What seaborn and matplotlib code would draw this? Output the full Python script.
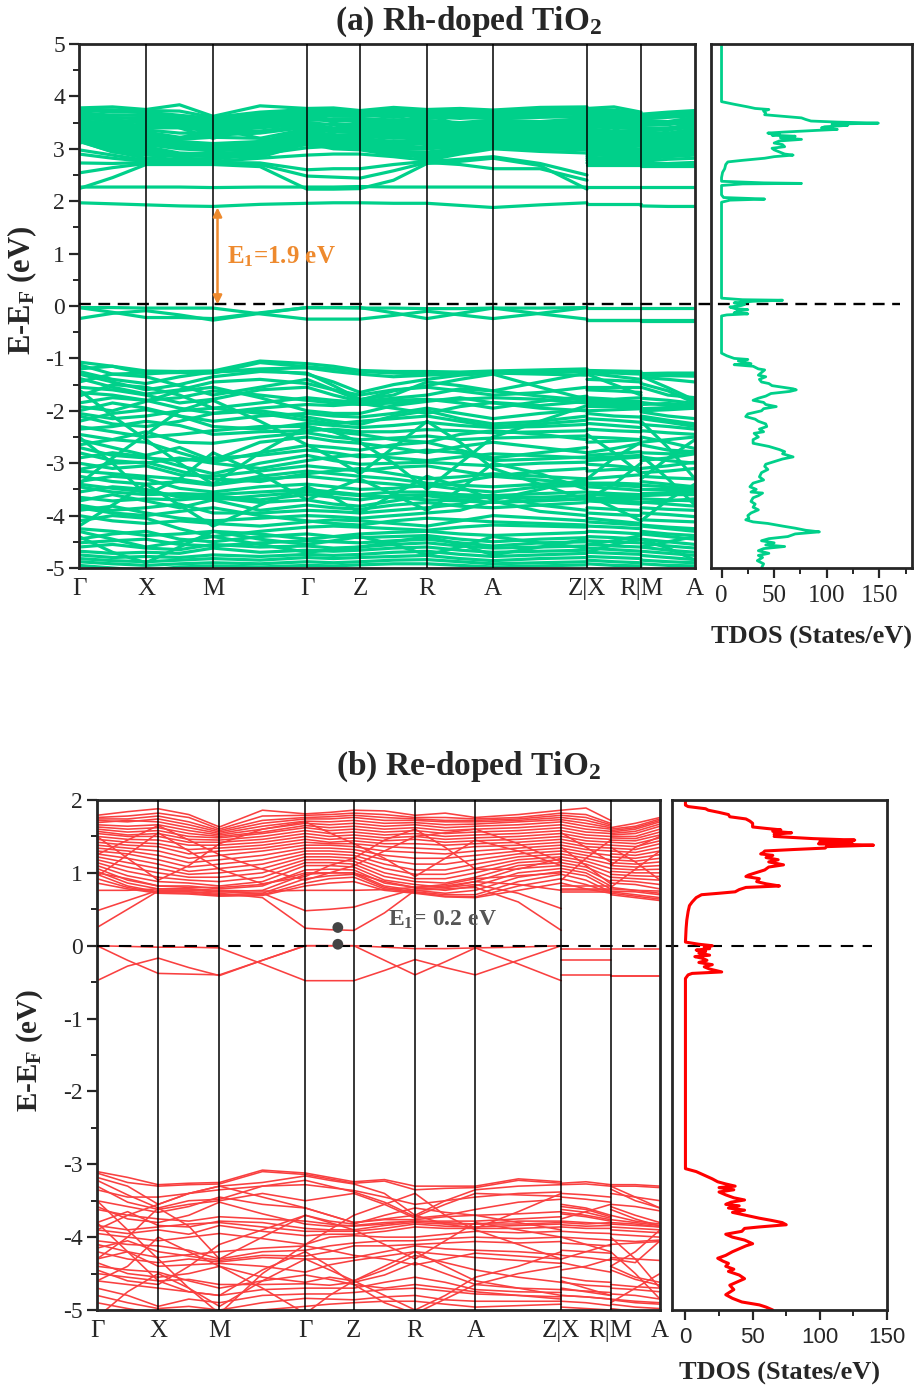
import numpy as np
import pandas as pd
import matplotlib
matplotlib.use("Agg")
import matplotlib.pyplot as plt
import seaborn as sns
from matplotlib.ticker import MultipleLocator

# ---------------- k-path ----------------
KPATH_POS = [0, 67, 134, 228, 281, 348, 414, 508, 562, 616]
KPATH_LABELS = ['Γ', 'X', 'M', 'Γ', 'Z', 'R', 'A', 'Z|X', 'R|M', 'A']
# each band: 21 energies -> Γ,·,X,·,M,·,Γ,·,Z,·,R,·,A,·,Z | X,·,R | M,·,A

# ---------------- (a) Rh-doped: conduction + in-gap ----------------
a_cond = [
    [3.78,3.80,3.75,3.84,3.62,3.82,3.77,3.78,3.73,3.79,3.75,3.77,3.74,3.79,3.80, 3.77,3.80,3.70, 3.66,3.70,3.73],
    [3.76,3.74,3.73,3.72,3.60,3.70,3.75,3.74,3.72,3.74,3.73,3.72,3.72,3.74,3.78, 3.75,3.74,3.68, 3.64,3.66,3.71],
    [3.74,3.70,3.70,3.64,3.58,3.66,3.73,3.70,3.70,3.70,3.71,3.68,3.70,3.70,3.76, 3.73,3.70,3.66, 3.62,3.62,3.69],
    [3.72,3.74,3.68,3.62,3.56,3.62,3.71,3.66,3.68,3.64,3.69,3.72,3.68,3.66,3.73, 3.70,3.66,3.63, 3.60,3.66,3.66],
    [3.69,3.64,3.64,3.60,3.54,3.58,3.69,3.70,3.65,3.60,3.66,3.64,3.65,3.62,3.70, 3.66,3.62,3.60, 3.58,3.60,3.63],
    [3.66,3.58,3.60,3.56,3.51,3.55,3.66,3.62,3.62,3.66,3.62,3.58,3.62,3.66,3.66, 3.62,3.58,3.57, 3.55,3.52,3.60],
    [3.63,3.60,3.56,3.52,3.48,3.52,3.62,3.56,3.58,3.55,3.58,3.60,3.58,3.60,3.62, 3.58,3.55,3.54, 3.52,3.50,3.57],
    [3.60,3.52,3.52,3.48,3.45,3.48,3.58,3.52,3.55,3.50,3.54,3.50,3.55,3.52,3.58, 3.54,3.52,3.50, 3.48,3.46,3.53],
    [3.57,3.56,3.48,3.46,3.42,3.45,3.54,3.56,3.52,3.46,3.50,3.46,3.52,3.48,3.54, 3.50,3.48,3.46, 3.44,3.48,3.50],
    [3.54,3.48,3.44,3.42,3.38,3.42,3.50,3.46,3.48,3.42,3.46,3.42,3.48,3.44,3.50, 3.46,3.44,3.42, 3.40,3.40,3.46],
    [3.51,3.44,3.40,3.40,3.34,3.40,3.47,3.40,3.44,3.40,3.42,3.40,3.45,3.42,3.46, 3.42,3.40,3.38, 3.36,3.36,3.42],
    [3.48,3.40,3.36,3.30,3.30,3.34,3.44,3.38,3.40,3.36,3.38,3.36,3.42,3.38,3.42, 3.38,3.34,3.34, 3.32,3.30,3.38],
    [3.45,3.36,3.32,3.22,3.26,3.30,3.41,3.36,3.36,3.32,3.34,3.32,3.38,3.34,3.38, 3.34,3.30,3.30, 3.28,3.26,3.34],
    [3.42,3.32,3.28,3.18,3.22,3.20,3.38,3.32,3.32,3.28,3.30,3.28,3.34,3.30,3.34, 3.30,3.26,3.26, 3.24,3.22,3.30],
    [3.39,3.30,3.24,3.14,3.10,3.14,3.35,3.26,3.28,3.24,3.26,3.24,3.30,3.26,3.30, 3.26,3.22,3.22, 3.20,3.18,3.26],
    [3.36,3.26,3.20,3.12,3.08,3.12,3.32,3.22,3.24,3.20,3.22,3.20,3.26,3.22,3.26, 3.22,3.18,3.18, 3.16,3.14,3.22],
    [3.33,3.22,3.16,3.08,3.04,3.08,3.28,3.18,3.20,3.14,3.18,3.16,3.22,3.18,3.22, 3.18,3.14,3.14, 3.12,3.10,3.18],
    [3.30,3.18,3.12,3.04,3.00,3.04,3.25,3.14,3.16,3.10,3.14,3.12,3.18,3.14,3.18, 3.14,3.10,3.10, 3.08,3.06,3.14],
    [3.27,3.14,3.08,3.00,2.96,3.00,3.22,3.10,3.12,3.06,3.10,3.08,3.14,3.10,3.14, 3.10,3.06,3.06, 3.04,3.02,3.10],
    [3.24,3.10,3.04,2.92,2.90,2.96,3.19,3.08,3.08,3.02,3.04,3.06,3.10,3.06,3.10, 3.06,3.02,3.00, 3.00,2.98,3.06],
    [3.21,3.06,3.00,2.88,2.92,2.92,3.16,3.06,3.04,2.98,3.00,3.04,3.08,3.04,3.08, 3.02,2.98,2.96, 2.96,2.94,3.02],
    [3.18,3.02,2.96,2.86,2.88,2.88,3.13,3.04,3.02,2.94,2.94,3.00,3.06,3.02,3.06, 2.98,2.94,2.92, 2.92,2.90,2.98],
    [3.16,2.98,2.92,2.90,2.86,2.86,3.12,3.02,3.00,2.90,2.90,2.96,3.04,3.00,3.04, 2.94,2.90,2.88, 2.88,2.88,2.94],
    [3.15,2.94,2.88,2.88,2.85,2.84,3.10,3.00,2.98,2.88,2.86,2.92,3.02,2.98,3.02, 2.90,2.88,2.86, 2.86,2.86,2.90],
    [3.60,3.30,3.02,3.20,3.40,3.20,3.08,3.30,3.55,3.30,3.06,3.25,3.45,3.25,3.10, 3.40,3.10,2.95, 3.30,3.05,2.95],
    [3.10,3.35,3.60,3.40,3.20,3.45,3.70,3.50,3.30,3.50,3.65,3.45,3.20,3.40,3.60, 3.08,3.35,3.60, 3.10,3.35,3.55],
    [3.14,2.95,2.82,2.88,2.85,2.95,3.08,3.10,3.08,3.00,2.84,3.00,3.10,3.05,3.06, 2.86,2.90,2.88, 2.84,2.92,2.96],
    [2.98,2.88,2.78,2.82,2.80,2.90,3.02,3.05,3.05,2.95,2.80,2.95,3.05,3.00,2.98, 2.82,2.84,2.82, 2.80,2.85,2.88],
    [2.90,2.82,2.76,2.78,2.76,2.82,2.88,2.90,2.90,2.85,2.78,2.90,3.00,2.95,2.92, 2.78,2.80,2.78, 2.76,2.80,2.82],
    [2.73,2.72,2.74,2.74,2.74,2.73,2.60,2.62,2.62,2.70,2.76,2.80,2.85,2.72,2.50, 2.76,2.76,2.76, 2.72,2.72,2.74],
    [2.54,2.64,2.72,2.72,2.72,2.70,2.48,2.46,2.44,2.58,2.74,2.70,2.62,2.62,2.40, 2.73,2.74,2.74, 2.70,2.70,2.70],
    [2.24,2.45,2.70,2.70,2.70,2.66,2.23,2.23,2.24,2.40,2.72,2.76,2.82,2.68,2.23, 2.70,2.70,2.70, 2.68,2.68,2.68],
    [2.27,2.27,2.27,2.27,2.26,2.27,2.27,2.27,2.28,2.27,2.27,2.27,2.27,2.27,2.27, 2.27,2.27,2.27, 2.27,2.27,2.27],
    [1.97,1.95,1.93,1.91,1.90,1.94,1.96,1.97,1.97,1.96,1.96,1.92,1.88,1.93,1.97, 1.95,1.95,1.95, 1.91,1.90,1.90],
]

# ---------------- (a) near Fermi level ----------------
a_fermi = [
    [-0.03,-0.03,-0.04,-0.04,-0.04,-0.15,-0.25,-0.25,-0.25,-0.18,-0.10,-0.17,-0.24,-0.14,-0.03, -0.04,-0.04,-0.04, -0.04,-0.04,-0.04],
    [-0.03,-0.12,-0.22,-0.22,-0.24,-0.13,-0.03,-0.03,-0.03,-0.13,-0.24,-0.14,-0.04,-0.15,-0.25, -0.26,-0.26,-0.26, -0.26,-0.26,-0.26],
    [-0.24,-0.14,-0.09,-0.17,-0.27,-0.14,-0.03,-0.03,-0.04,-0.04,-0.05,-0.05,-0.04,-0.04,-0.03, -0.27,-0.27,-0.27, -0.28,-0.28,-0.28],
]

# ---------------- (a) valence ----------------
a_val = [
    [-1.07,-1.15,-1.24,-1.25,-1.24,-1.05,-1.10,-1.15,-1.23,-1.25,-1.25,-1.26,-1.24,-1.22,-1.20, -1.23,-1.24,-1.25, -1.29,-1.28,-1.28],
    [-1.12,-1.30,-1.28,-1.27,-1.28,-1.08,-1.16,-1.20,-1.25,-1.28,-1.30,-1.28,-1.26,-1.24,-1.22, -1.26,-1.28,-1.30, -1.30,-1.30,-1.32],
    [-1.20,-1.15,-1.30,-1.25,-1.26,-1.22,-1.30,-1.45,-1.65,-1.50,-1.40,-1.32,-1.28,-1.26,-1.25, -1.28,-1.34,-1.40, -1.32,-1.33,-1.34],
    [-1.30,-1.45,-1.60,-1.50,-1.35,-1.25,-1.28,-1.52,-1.78,-1.70,-1.45,-1.52,-1.62,-1.45,-1.28, -1.30,-1.50,-1.70, -1.34,-1.56,-1.80],
    [-1.45,-1.30,-1.35,-1.52,-1.70,-1.55,-1.40,-1.60,-1.80,-1.62,-1.52,-1.40,-1.30,-1.55,-1.78, -1.55,-1.55,-1.55, -1.48,-1.62,-1.85],
    [-1.55,-1.60,-1.70,-1.85,-1.78,-1.60,-1.55,-1.70,-1.82,-1.76,-1.70,-1.58,-1.62,-1.72,-1.80, -1.75,-1.78,-1.75, -1.76,-1.80,-1.86],
    [-1.72,-1.50,-1.55,-1.70,-1.95,-1.85,-1.75,-1.80,-1.84,-1.80,-1.78,-1.85,-1.95,-1.82,-1.72, -1.80,-1.82,-1.82, -1.88,-1.86,-1.90],
    [-1.85,-1.75,-1.80,-1.95,-2.05,-1.95,-1.88,-1.90,-1.86,-1.95,-2.05,-1.92,-1.84,-1.90,-1.82, -1.86,-1.86,-1.86, -1.96,-1.94,-1.92],
    [-1.92,-2.00,-1.82,-1.62,-1.55,-1.75,-2.00,-2.05,-2.05,-1.90,-1.82,-1.75,-1.85,-1.95,-2.00, -1.90,-1.90,-1.90, -2.00,-1.98,-1.95],
    [-2.00,-1.85,-1.95,-2.10,-2.20,-2.10,-2.05,-2.10,-2.12,-2.05,-1.95,-2.05,-2.15,-2.05,-1.98, -2.00,-1.98,-1.96, -2.02,-2.10,-2.15],
    [-2.10,-2.25,-2.30,-2.20,-2.05,-2.00,-2.12,-2.20,-2.26,-2.10,-2.00,-2.15,-2.25,-2.20,-2.10, -2.05,-2.10,-2.12, -2.10,-2.18,-2.25],
    [-2.20,-2.05,-1.98,-2.10,-2.30,-2.35,-2.24,-2.28,-2.32,-2.28,-2.22,-2.28,-2.32,-2.30,-2.26, -2.24,-2.28,-2.32, -2.26,-2.30,-2.35],
    [-2.35,-2.30,-2.20,-2.28,-2.45,-2.40,-2.38,-2.35,-2.40,-2.40,-2.36,-2.38,-2.42,-2.40,-2.38, -2.35,-2.38,-2.40, -2.38,-2.42,-2.45],
    [-2.45,-2.55,-2.40,-2.60,-2.62,-2.50,-2.42,-2.50,-2.55,-2.52,-2.48,-2.55,-2.52,-2.50,-2.48, -2.50,-2.52,-2.55, -2.50,-2.60,-2.72],
    [-2.55,-2.70,-2.85,-2.70,-2.95,-2.60,-2.50,-2.58,-2.62,-2.70,-2.80,-2.68,-2.60,-2.70,-2.80, -2.80,-2.72,-2.62, -2.65,-2.75,-2.78],
    [-2.65,-2.55,-2.60,-2.80,-2.98,-2.80,-2.66,-2.70,-2.75,-2.65,-2.60,-2.75,-2.90,-2.80,-2.70, -2.85,-2.82,-2.78, -2.80,-2.82,-2.80],
    [-2.80,-2.95,-3.00,-2.90,-3.00,-3.10,-2.95,-2.88,-2.84,-2.90,-2.95,-2.88,-2.82,-2.86,-2.90, -2.95,-2.92,-2.88, -2.95,-2.90,-2.82],
    [-2.90,-2.80,-2.88,-3.05,-3.20,-3.00,-2.85,-2.95,-3.02,-3.00,-2.98,-3.02,-3.05,-3.00,-2.98, -3.02,-3.05,-3.10, -3.10,-3.05,-2.98],
    [-3.00,-3.10,-3.05,-3.22,-3.25,-3.15,-3.05,-3.10,-3.15,-3.08,-3.05,-3.15,-3.25,-3.15,-3.10, -3.15,-3.12,-3.12, -3.18,-3.15,-3.10],
    [-3.12,-3.00,-2.98,-3.15,-3.30,-3.35,-3.20,-3.15,-3.10,-3.20,-3.30,-3.26,-3.20,-3.25,-3.30, -3.30,-3.26,-3.22, -3.25,-3.28,-3.30],
    [-3.25,-3.35,-3.40,-3.35,-3.42,-3.30,-3.25,-3.30,-3.35,-3.40,-3.45,-3.35,-3.25,-3.32,-3.40, -3.38,-3.38,-3.40, -3.35,-3.40,-3.45],
    [-3.35,-3.25,-3.30,-3.48,-3.55,-3.45,-3.40,-3.45,-3.50,-3.48,-3.42,-3.50,-3.55,-3.45,-3.42, -3.45,-3.48,-3.52, -3.50,-3.50,-3.52],
    [-3.45,-3.55,-3.60,-3.58,-3.60,-3.55,-3.50,-3.55,-3.60,-3.55,-3.55,-3.60,-3.62,-3.58,-3.55, -3.55,-3.58,-3.60, -3.58,-3.56,-3.55],
    [-3.55,-3.45,-3.50,-3.65,-3.62,-3.70,-3.60,-3.65,-3.70,-3.62,-3.60,-3.65,-3.66,-3.65,-3.62, -3.60,-3.62,-3.65, -3.62,-3.60,-3.60],
    [-3.65,-3.72,-3.68,-3.70,-3.65,-3.75,-3.70,-3.78,-3.82,-3.72,-3.62,-3.70,-3.75,-3.70,-3.68, -3.66,-3.66,-3.66, -3.68,-3.70,-3.72],
    [-3.72,-3.60,-3.72,-3.85,-3.70,-3.90,-3.80,-3.85,-3.88,-3.80,-3.75,-3.82,-3.85,-3.80,-3.75, -3.72,-3.75,-3.78, -3.74,-3.78,-3.82],
    [-3.80,-3.90,-3.85,-3.78,-3.95,-3.95,-3.90,-3.92,-3.95,-3.90,-3.85,-3.78,-3.60,-3.80,-3.90, -3.85,-3.88,-3.90, -3.85,-3.88,-3.90],
    [-3.90,-3.82,-3.95,-4.05,-4.10,-4.05,-4.00,-4.02,-4.05,-4.00,-3.95,-3.90,-3.72,-3.92,-4.00, -3.95,-3.98,-4.00, -3.95,-3.98,-4.02],
    [-4.00,-4.10,-4.15,-4.10,-4.15,-4.20,-4.12,-4.08,-4.10,-4.15,-4.20,-4.10,-4.00,-4.05,-4.10, -4.05,-4.10,-4.15, -4.08,-4.10,-4.12],
    [-4.10,-4.00,-4.05,-4.25,-4.40,-4.30,-4.22,-4.20,-4.22,-4.25,-4.28,-4.22,-4.18,-4.20,-4.22, -4.20,-4.22,-4.25, -4.18,-4.22,-4.25],
    [-1.60,-2.10,-2.55,-3.00,-3.40,-2.80,-2.30,-2.40,-2.60,-3.00,-3.50,-3.00,-2.50,-2.20,-1.90, -2.45,-2.80,-3.20, -3.30,-2.90,-2.55],
    [-3.40,-2.90,-2.45,-2.00,-1.80,-2.20,-2.65,-2.90,-3.20,-2.70,-2.20,-2.60,-3.10,-3.40,-3.70, -3.30,-2.90,-2.60, -2.20,-2.70,-3.30],
    [-2.50,-3.00,-3.60,-3.30,-2.80,-3.20,-3.70,-3.50,-3.30,-3.60,-3.90,-3.50,-3.00,-3.20,-3.50, -3.70,-3.40,-3.00, -2.85,-3.30,-3.80],
    [-4.20,-3.80,-3.40,-3.80,-4.20,-3.80,-3.45,-3.65,-3.95,-3.60,-3.25,-3.45,-3.70,-3.50,-3.30, -3.60,-3.85,-4.10, -4.10,-3.70,-3.40],
    [-4.45,-4.35,-4.30,-4.45,-4.50,-4.40,-4.35,-4.40,-4.42,-4.40,-4.38,-4.45,-4.50,-4.45,-4.42, -4.40,-4.42,-4.45, -4.35,-4.40,-4.45],
    [-4.52,-4.48,-4.45,-4.55,-4.58,-4.52,-4.48,-4.50,-4.52,-4.48,-4.45,-4.52,-4.58,-4.52,-4.50, -4.48,-4.50,-4.52, -4.45,-4.50,-4.55],
    [-4.60,-4.55,-4.62,-4.65,-4.55,-4.60,-4.58,-4.62,-4.60,-4.55,-4.52,-4.58,-4.62,-4.60,-4.58, -4.55,-4.58,-4.60, -4.52,-4.58,-4.62],
    [-4.68,-4.72,-4.70,-4.72,-4.62,-4.70,-4.66,-4.68,-4.66,-4.62,-4.60,-4.66,-4.70,-4.68,-4.66, -4.62,-4.65,-4.68, -4.60,-4.66,-4.70],
    [-4.75,-4.80,-4.78,-4.80,-4.75,-4.78,-4.74,-4.76,-4.74,-4.70,-4.68,-4.74,-4.78,-4.75,-4.72, -4.70,-4.72,-4.74, -4.68,-4.72,-4.76],
    [-4.82,-4.86,-4.88,-4.85,-4.82,-4.85,-4.80,-4.82,-4.80,-4.78,-4.76,-4.82,-4.86,-4.82,-4.80, -4.78,-4.80,-4.82, -4.76,-4.80,-4.84],
    [-4.88,-4.92,-4.95,-4.92,-4.90,-4.92,-4.88,-4.90,-4.88,-4.85,-4.84,-4.88,-4.92,-4.90,-4.88, -4.85,-4.88,-4.90, -4.85,-4.88,-4.90],
    [-4.95,-5.00,-5.05,-4.98,-4.96,-4.98,-4.95,-4.96,-4.94,-4.92,-4.92,-4.95,-4.98,-4.96,-4.94, -4.92,-4.95,-4.96, -4.92,-4.95,-4.96],
    [-4.30,-4.45,-4.60,-4.50,-4.40,-4.55,-4.70,-4.65,-4.60,-4.50,-4.40,-4.55,-4.75,-4.60,-4.45, -4.55,-4.48,-4.38, -4.60,-4.50,-4.40],
    [-4.40,-4.70,-4.90,-4.60,-4.30,-4.45,-4.55,-4.48,-4.40,-4.55,-4.75,-4.60,-4.40,-4.52,-4.62, -4.70,-4.55,-4.45, -4.45,-4.62,-4.85],
    [-1.25,-1.40,-1.48,-1.35,-1.26,-1.20,-1.18,-1.25,-1.30,-1.35,-1.32,-1.30,-1.28,-1.30,-1.32, -1.40,-1.42,-1.45, -1.36,-1.40,-1.45],
    [-1.38,-1.55,-1.68,-1.60,-1.45,-1.40,-1.48,-1.60,-1.70,-1.60,-1.55,-1.62,-1.70,-1.65,-1.55, -1.60,-1.62,-1.65, -1.55,-1.70,-1.75],
    [-1.65,-1.70,-1.80,-1.75,-1.62,-1.70,-1.80,-1.85,-1.88,-1.85,-1.80,-1.78,-1.75,-1.78,-1.85, -1.82,-1.84,-1.88, -1.84,-1.90,-1.95],
    [-2.05,-2.15,-2.10,-2.00,-1.95,-2.05,-2.18,-2.25,-2.20,-2.15,-2.10,-2.20,-2.30,-2.25,-2.18, -2.15,-2.18,-2.22, -2.15,-2.22,-2.30],
    [-2.30,-2.40,-2.50,-2.45,-2.38,-2.30,-2.30,-2.40,-2.45,-2.55,-2.60,-2.45,-2.38,-2.45,-2.55, -2.60,-2.58,-2.55, -2.60,-2.55,-2.50],
    [-2.70,-2.85,-2.90,-2.95,-2.90,-2.85,-2.75,-2.80,-2.88,-2.82,-2.75,-2.80,-2.95,-2.92,-2.88, -2.90,-2.88,-2.85, -2.88,-2.95,-3.00],
    [-3.15,-3.20,-3.25,-3.30,-3.40,-3.25,-3.15,-3.20,-3.25,-3.30,-3.38,-3.42,-3.45,-3.40,-3.35, -3.40,-3.42,-3.45, -3.42,-3.45,-3.50],
    [-3.40,-3.48,-3.55,-3.62,-3.70,-3.62,-3.55,-3.58,-3.62,-3.65,-3.70,-3.72,-3.75,-3.72,-3.68, -3.70,-3.72,-3.74, -3.75,-3.72,-3.68],
    [-3.85,-3.95,-4.00,-3.92,-3.85,-4.00,-4.10,-4.15,-4.18,-4.10,-4.05,-4.08,-4.12,-4.15,-4.18, -4.12,-4.15,-4.18, -4.20,-4.25,-4.30],
    [-4.25,-4.30,-4.38,-4.35,-4.30,-4.35,-4.45,-4.40,-4.35,-4.32,-4.30,-4.35,-4.38,-4.35,-4.32, -4.30,-4.32,-4.35, -4.30,-4.35,-4.38],
]

# ---------------- (b) Re-doped: conduction + in-gap ----------------
b_cond = [
    [1.79,1.84,1.88,1.80,1.63,1.86,1.81,1.83,1.86,1.85,1.79,1.82,1.76,1.80,1.86, 1.86,1.89,1.72, 1.62,1.68,1.76],
    [1.76,1.78,1.82,1.76,1.60,1.78,1.79,1.80,1.82,1.80,1.76,1.76,1.74,1.76,1.82, 1.82,1.80,1.68, 1.60,1.64,1.74],
    [1.74,1.74,1.78,1.70,1.58,1.72,1.76,1.77,1.79,1.76,1.74,1.72,1.72,1.74,1.79, 1.79,1.76,1.66, 1.58,1.62,1.72],
    [1.72,1.70,1.74,1.66,1.56,1.68,1.74,1.74,1.76,1.72,1.72,1.70,1.70,1.72,1.76, 1.76,1.72,1.64, 1.56,1.60,1.70],
    [1.69,1.72,1.70,1.62,1.54,1.64,1.71,1.70,1.72,1.68,1.69,1.66,1.67,1.70,1.73, 1.73,1.68,1.62, 1.54,1.57,1.67],
    [1.66,1.64,1.66,1.58,1.52,1.60,1.68,1.66,1.68,1.64,1.66,1.62,1.64,1.66,1.70, 1.70,1.64,1.60, 1.52,1.54,1.64],
    [1.63,1.60,1.62,1.54,1.50,1.56,1.65,1.62,1.64,1.60,1.62,1.58,1.60,1.62,1.66, 1.66,1.60,1.57, 1.50,1.50,1.60],
    [1.60,1.56,1.58,1.50,1.48,1.54,1.62,1.58,1.60,1.56,1.58,1.54,1.56,1.58,1.62, 1.62,1.56,1.54, 1.48,1.47,1.56],
    [1.57,1.52,1.54,1.46,1.45,1.50,1.58,1.54,1.56,1.52,1.54,1.50,1.52,1.54,1.58, 1.58,1.52,1.50, 1.45,1.44,1.52],
    [1.54,1.50,1.50,1.42,1.42,1.46,1.54,1.50,1.52,1.48,1.50,1.46,1.48,1.50,1.54, 1.54,1.48,1.46, 1.42,1.40,1.48],
    [1.50,1.46,1.45,1.38,1.38,1.42,1.50,1.46,1.48,1.44,1.46,1.42,1.44,1.46,1.50, 1.50,1.44,1.42, 1.38,1.36,1.44],
    [1.46,1.42,1.40,1.32,1.34,1.38,1.46,1.42,1.44,1.40,1.40,1.38,1.40,1.42,1.46, 1.46,1.40,1.38, 1.34,1.32,1.40],
    [1.42,1.38,1.36,1.26,1.30,1.34,1.42,1.40,1.40,1.36,1.34,1.32,1.36,1.38,1.42, 1.42,1.36,1.34, 1.30,1.28,1.35],
    [1.38,1.34,1.30,1.20,1.24,1.30,1.38,1.38,1.36,1.30,1.28,1.26,1.30,1.34,1.38, 1.38,1.32,1.30, 1.26,1.24,1.30],
    [1.34,1.30,1.24,1.14,1.18,1.24,1.34,1.34,1.32,1.24,1.20,1.20,1.24,1.30,1.34, 1.34,1.28,1.24, 1.22,1.20,1.25],
    [1.30,1.26,1.18,1.08,1.12,1.18,1.30,1.30,1.28,1.18,1.12,1.12,1.18,1.26,1.30, 1.30,1.24,1.18, 1.18,1.16,1.20],
    [1.26,1.20,1.12,1.02,1.06,1.12,1.26,1.26,1.24,1.12,1.04,1.04,1.12,1.22,1.26, 1.26,1.20,1.12, 1.14,1.12,1.15],
    [1.22,1.14,1.06,0.98,1.00,1.06,1.22,1.22,1.20,1.06,0.98,0.98,1.06,1.18,1.22, 1.22,1.16,1.06, 1.10,1.08,1.10],
    [1.18,1.08,1.00,0.94,0.94,1.00,1.18,1.18,1.16,1.00,0.92,0.92,1.00,1.14,1.18, 1.18,1.12,1.00, 1.06,1.04,1.05],
    [1.14,1.02,0.94,0.90,0.88,0.94,1.14,1.14,1.12,0.95,0.88,0.86,0.94,1.10,1.14, 1.14,1.08,0.94, 1.02,1.00,1.00],
    [1.10,0.96,0.88,0.86,0.82,0.88,1.10,1.10,1.08,0.90,0.84,0.80,0.88,1.06,1.10, 1.10,1.04,0.88, 0.98,0.96,0.95],
    [1.06,0.90,0.82,0.82,0.78,0.82,1.04,1.05,1.04,0.86,0.80,0.76,0.82,1.00,1.06, 1.06,1.00,0.82, 0.94,0.92,0.90],
    [1.02,0.86,0.78,0.78,0.74,0.76,0.98,1.00,1.00,0.82,0.76,0.72,0.76,0.94,1.02, 1.02,0.96,0.78, 0.90,0.88,0.84],
    [0.98,0.82,0.74,0.74,0.70,0.72,0.92,0.96,0.98,0.80,0.74,0.70,0.70,0.88,0.98, 0.98,0.90,0.74, 0.86,0.84,0.78],
    [0.92,0.80,0.73,0.72,0.69,0.70,0.86,0.92,0.94,0.78,0.73,0.68,0.67,0.82,0.92, 0.92,0.84,0.73, 0.80,0.76,0.72],
    [0.86,0.78,0.72,0.71,0.68,0.69,0.82,0.86,0.88,0.76,0.72,0.67,0.66,0.76,0.86, 0.86,0.78,0.72, 0.74,0.70,0.66],
    [1.50,1.20,0.90,1.10,1.40,1.60,1.70,1.55,1.40,1.20,0.95,1.20,1.45,1.30,1.10, 1.35,1.10,0.85, 0.80,1.05,1.30],
    [0.95,1.25,1.55,1.30,1.05,0.85,0.95,1.10,1.20,1.45,1.60,1.35,1.05,1.05,1.20, 0.90,1.20,1.45, 1.35,1.15,0.90],
    [1.25,1.45,1.65,1.45,1.25,1.05,0.90,1.00,1.10,1.30,1.50,1.55,1.60,1.40,1.15, 1.55,1.35,1.15, 1.10,1.35,1.50],
    [1.00,0.92,0.82,0.80,0.80,0.84,1.00,1.00,1.00,0.88,0.80,0.84,0.92,0.96,1.00, 0.82,0.82,0.82, 0.78,0.76,0.75],
    [0.76,0.76,0.78,0.78,0.76,0.75,0.76,0.76,0.76,0.77,0.80,0.82,0.88,0.84,0.76, 0.78,0.78,0.78, 0.75,0.74,0.70],
    [0.48,0.62,0.76,0.76,0.74,0.72,0.48,0.50,0.53,0.66,0.78,0.80,0.84,0.72,0.51, 0.76,0.76,0.76, 0.72,0.68,0.64],
    [0.25,0.50,0.75,0.74,0.72,0.66,0.24,0.22,0.21,0.45,0.76,0.78,0.80,0.60,0.21, 0.74,0.74,0.74, 0.70,0.66,0.62],
]

# ---------------- (b) near Fermi level ----------------
b_fermi = [
    [0.00,-0.01,-0.02,-0.02,-0.03,-0.25,-0.48,-0.48,-0.48,-0.34,-0.19,-0.30,-0.40,-0.20,0.00, -0.04,-0.04,-0.04, -0.04,-0.04,-0.04],
    [0.00,-0.20,-0.38,-0.39,-0.40,-0.20,0.00,0.00,0.00,-0.20,-0.40,-0.22,-0.03,-0.25,-0.48, -0.19,-0.19,-0.19, -0.42,-0.42,-0.42],
    [-0.48,-0.28,-0.17,-0.30,-0.41,-0.20,0.00,0.00,0.00,-0.02,-0.04,-0.04,-0.03,-0.02,0.00, -0.40,-0.40,-0.40, -0.42,-0.42,-0.42],
]

# ---------------- (b) valence ----------------
b_val = [
    [-3.10,-3.18,-3.28,-3.26,-3.25,-3.08,-3.12,-3.18,-3.24,-3.21,-3.30,-3.30,-3.30,-3.20,-3.24, -3.26,-3.24,-3.28, -3.28,-3.28,-3.30],
    [-3.12,-3.25,-3.30,-3.28,-3.27,-3.10,-3.14,-3.20,-3.26,-3.23,-3.35,-3.33,-3.32,-3.22,-3.26, -3.28,-3.27,-3.30, -3.30,-3.30,-3.32],
    [-3.18,-3.30,-3.55,-3.40,-3.30,-3.25,-3.16,-3.22,-3.27,-3.40,-3.70,-3.50,-3.35,-3.30,-3.28, -3.55,-3.60,-3.70, -3.34,-3.50,-3.60],
    [-3.22,-3.42,-3.60,-3.50,-3.48,-3.30,-3.22,-3.30,-3.38,-3.52,-3.72,-3.55,-3.40,-3.42,-3.44, -3.58,-3.62,-3.72, -3.55,-3.58,-3.64],
    [-3.30,-3.52,-3.62,-3.55,-3.50,-3.40,-3.50,-3.45,-3.40,-3.55,-3.74,-3.70,-3.62,-3.52,-3.48, -3.62,-3.66,-3.74, -3.58,-3.70,-3.80],
    [-3.50,-3.58,-3.66,-3.58,-3.45,-3.55,-3.60,-3.70,-3.80,-3.76,-3.76,-3.72,-3.70,-3.68,-3.65, -3.66,-3.70,-3.76, -3.70,-3.78,-3.82],
    [-3.58,-3.75,-3.80,-3.70,-3.52,-3.68,-3.82,-3.85,-3.84,-3.80,-3.78,-3.78,-3.78,-3.75,-3.72, -3.68,-3.72,-3.78, -3.76,-3.80,-3.84],
    [-3.80,-3.65,-3.84,-3.86,-3.78,-3.80,-3.88,-3.90,-3.90,-3.84,-3.80,-3.82,-3.82,-3.78,-3.78, -3.80,-3.82,-3.80, -3.82,-3.84,-3.86],
    [-3.84,-3.90,-3.86,-3.82,-3.80,-3.86,-3.92,-3.92,-3.92,-3.88,-3.82,-3.85,-3.86,-3.84,-3.82, -3.83,-3.85,-3.84, -3.86,-3.88,-3.90],
    [-3.90,-3.95,-3.90,-3.96,-3.84,-3.92,-3.98,-3.96,-3.96,-3.92,-3.86,-3.88,-3.88,-3.88,-3.86, -3.86,-3.88,-3.88, -3.90,-3.92,-3.94],
    [-3.95,-4.00,-4.05,-4.00,-3.95,-4.02,-4.10,-4.00,-3.98,-4.00,-4.00,-3.96,-3.92,-3.94,-3.92, -3.92,-3.94,-3.95, -3.96,-3.98,-4.00],
    [-4.05,-4.10,-4.12,-4.18,-4.30,-4.20,-4.18,-4.12,-4.08,-4.05,-4.05,-4.02,-4.00,-4.02,-4.00, -4.00,-4.02,-4.04, -4.04,-4.06,-4.04],
    [-4.15,-4.05,-4.20,-4.26,-4.32,-4.25,-4.26,-4.20,-4.12,-4.12,-4.10,-4.08,-4.06,-4.08,-4.06, -4.08,-4.10,-4.12, -4.10,-4.08,-4.06],
    [-4.20,-4.30,-4.35,-4.30,-4.34,-4.28,-4.30,-4.30,-4.28,-4.20,-4.12,-4.16,-4.18,-4.20,-4.24, -4.18,-4.20,-4.22, -4.40,-4.55,-4.62],
    [-4.30,-4.20,-4.40,-4.38,-4.36,-4.40,-4.48,-4.38,-4.32,-4.26,-4.20,-4.24,-4.28,-4.32,-4.36, -4.35,-4.42,-4.48, -4.45,-4.58,-4.66],
    [-4.35,-4.50,-4.55,-4.50,-4.40,-4.55,-4.62,-4.55,-4.60,-4.45,-4.25,-4.35,-4.45,-4.55,-4.62, -4.55,-4.60,-4.62, -4.65,-4.68,-4.70],
    [-4.50,-4.55,-4.60,-4.58,-4.65,-4.65,-4.64,-4.66,-4.62,-4.52,-4.35,-4.50,-4.65,-4.70,-4.72, -4.62,-4.66,-4.68, -4.70,-4.72,-4.75],
    [-4.60,-4.65,-4.70,-4.75,-4.80,-4.72,-4.70,-4.70,-4.70,-4.62,-4.55,-4.62,-4.72,-4.75,-4.76, -4.72,-4.74,-4.76, -4.78,-4.80,-4.85],
    [-4.70,-4.80,-4.95,-4.85,-4.90,-4.80,-4.78,-4.78,-4.76,-4.72,-4.70,-4.74,-4.78,-4.80,-4.82, -4.80,-4.82,-4.85, -4.86,-4.90,-4.92],
    [-4.80,-4.90,-4.98,-4.95,-5.00,-4.90,-4.84,-4.85,-4.86,-4.82,-4.80,-4.86,-4.88,-4.88,-4.88, -4.88,-4.90,-4.94, -4.92,-4.96,-4.98],
    [-4.90,-4.98,-5.05,-5.05,-5.10,-5.00,-4.95,-4.92,-4.90,-4.88,-4.88,-4.92,-4.96,-4.94,-4.92, -4.96,-4.98,-5.00, -4.98,-5.02,-5.05],
    [-3.50,-3.90,-4.30,-4.70,-5.05,-4.50,-4.10,-3.90,-3.70,-3.55,-3.40,-3.70,-3.90,-4.10,-4.30, -4.00,-4.10,-4.20, -4.40,-4.20,-3.90],
    [-4.30,-4.00,-3.60,-3.85,-4.30,-4.00,-3.70,-3.80,-3.90,-4.10,-4.30,-4.05,-3.80,-3.90,-4.00, -4.30,-4.20,-4.10, -4.30,-4.35,-4.05],
    [-4.60,-4.40,-4.00,-4.20,-4.40,-4.70,-5.05,-4.80,-4.60,-4.40,-4.20,-4.40,-4.60,-4.70,-4.80, -4.45,-4.40,-4.30, -4.00,-4.30,-4.70],
    [-5.10,-4.75,-4.50,-4.70,-4.95,-4.60,-4.30,-4.45,-4.60,-4.80,-5.00,-4.80,-4.55,-4.40,-4.20, -4.60,-4.70,-4.80, -4.20,-4.50,-4.85],
    [-3.80,-4.20,-4.60,-4.75,-4.80,-4.45,-4.20,-4.40,-4.65,-4.90,-5.05,-4.85,-4.65,-4.50,-4.40, -4.70,-4.75,-4.80, -4.90,-4.70,-4.50],
    [-4.45,-4.60,-4.65,-4.40,-4.10,-3.90,-3.70,-3.78,-3.82,-3.70,-3.60,-3.66,-3.70,-3.80,-3.90, -3.40,-3.42,-3.45, -3.62,-3.75,-3.85],
    [-3.90,-3.70,-3.55,-3.40,-3.30,-3.45,-3.60,-3.70,-3.80,-3.75,-3.70,-3.82,-3.88,-3.65,-3.40, -3.75,-3.65,-3.55, -3.30,-3.45,-3.60],
    [-3.35,-3.45,-3.45,-3.40,-3.35,-3.30,-3.28,-3.32,-3.36,-3.45,-3.55,-3.50,-3.45,-3.40,-3.38, -3.45,-3.48,-3.52, -3.40,-3.45,-3.50],
    [-3.62,-3.70,-3.75,-3.78,-3.72,-3.75,-3.78,-3.82,-3.85,-3.82,-3.78,-3.80,-3.82,-3.82,-3.80, -3.78,-3.80,-3.82, -3.80,-3.82,-3.86],
    [-4.10,-4.20,-4.28,-4.24,-4.20,-4.15,-4.12,-4.18,-4.25,-4.30,-4.38,-4.30,-4.22,-4.26,-4.30, -4.25,-4.28,-4.32, -4.28,-4.30,-4.32],
    [-4.40,-4.45,-4.48,-4.60,-4.70,-4.60,-4.52,-4.58,-4.65,-4.70,-4.65,-4.70,-4.75,-4.80,-4.85, -4.80,-4.82,-4.85, -4.85,-4.88,-4.90],
]

# ---------------- TDOS ----------------
a_dos_E = [5.0,3.90,3.85,3.80,3.77,3.75,3.72,3.68,3.65,3.62,3.59,3.56,3.53,3.51,3.49,3.47,3.45,3.44,3.42,3.40,
           3.37,3.35,3.32,3.30,3.28,3.26,3.24,3.21,3.18,3.15,3.11,3.08,3.04,3.01,2.98,2.94,2.90,2.88,2.85,2.82,
           2.78,2.75,2.70,2.62,2.55,2.45,2.38,2.35,2.34,2.33,2.30,2.12,2.07,2.05,2.04,2.02,1.98,0.15,0.12,0.11,
           0.09,0.06,0.03,0.01,-0.02,-0.05,-0.07,-0.10,-0.13,-0.15,-0.17,-0.19,-0.90,-0.95,-1.00,-1.02,-1.05,-1.10,-1.12,-1.15,
           -1.20,-1.22,-1.27,-1.32,-1.35,-1.40,-1.45,-1.48,-1.52,-1.58,-1.60,-1.63,-1.67,-1.72,-1.76,-1.80,-1.84,-1.88,-1.92,-1.96,
           -2.00,-2.06,-2.11,-2.16,-2.20,-2.25,-2.30,-2.35,-2.40,-2.43,-2.50,-2.55,-2.62,-2.68,-2.74,-2.78,-2.82,-2.88,-2.92,-2.97,
           -3.02,-3.06,-3.12,-3.18,-3.26,-3.32,-3.38,-3.45,-3.50,-3.55,-3.57,-3.62,-3.66,-3.73,-3.78,-3.84,-3.89,-3.95,-4.00,-4.05,
           -4.08,-4.12,-4.15,-4.20,-4.24,-4.28,-4.31,-4.35,-4.40,-4.44,-4.48,-4.52,-4.56,-4.59,-4.63,-4.67,-4.72,-4.76,-4.80,-4.86,
           -4.92,-5.0]
a_dos = [0,0,12,25,32,45,40,42,41,58,76,80,85,110,149,105,120,114,98,95,
         110,89,60,44,55,48,70,56,76,55,50,58,60,48,50,55,60,68,50,41,
         20,6,4,3,1,0,0,40,76,20,0,0,2,30,41,8,0,0,20,58,
         30,12,22,19,8,13,25,15,12,25,5,0,0,5,12,25,16,28,12,30,
         35,41,38,35,42,36,38,45,48,68,71,65,47,42,35,30,40,42,52,40,
         38,25,23,32,35,42,43,36,40,31,35,30,30,45,55,60,58,68,58,50,
         42,41,44,38,36,40,30,27,33,28,39,35,30,28,32,30,35,28,25,26,
         23,30,44,58,70,80,93,70,63,45,38,50,42,60,40,35,45,35,39,34,
         40,38]

b_dos_E = [2.0,1.93,1.91,1.88,1.86,1.83,1.80,1.77,1.74,1.71,1.68,1.63,1.61,1.59,1.57,1.55,1.53,1.51,1.50,1.47,
           1.45,1.43,1.41,1.40,1.38,1.36,1.34,1.32,1.30,1.28,1.26,1.24,1.21,1.18,1.15,1.11,1.08,1.04,1.00,0.97,
           0.95,0.92,0.88,0.85,0.82,0.80,0.77,0.74,0.72,0.70,0.66,0.60,0.55,0.47,0.35,0.24,0.05,0.02,0.00,-0.02,
           -0.04,-0.06,-0.08,-0.10,-0.13,-0.15,-0.17,-0.20,-0.23,-0.26,-0.29,-0.32,-0.36,-0.38,-0.40,-0.45,-3.06,-3.10,-3.15,-3.20,
           -3.24,-3.27,-3.30,-3.32,-3.35,-3.38,-3.42,-3.46,-3.49,-3.52,-3.55,-3.57,-3.60,-3.63,-3.66,-3.70,-3.74,-3.77,-3.80,-3.83,
           -3.86,-3.88,-3.92,-3.96,-4.00,-4.04,-4.09,-4.12,-4.16,-4.20,-4.25,-4.29,-4.33,-4.36,-4.40,-4.44,-4.47,-4.52,-4.57,-4.62,
           -4.66,-4.72,-4.79,-4.84,-4.89,-4.93,-4.96,-5.0]
b_dos = [0,0,2,15,17,25,32,33,45,48,50,50,60,71,65,79,66,70,66,95,
         126,100,124,99,140,105,104,80,59,58,56,65,60,69,62,73,62,59,52,47,
         45,55,53,60,70,45,40,37,25,12,8,5,3,2,1,0.5,0,10,20,14,
         18,8,15,10,18,7,12,16,10,20,14,18,27,5,2,0,0,8,14,20,
         24,30,37,25,36,25,30,36,44,34,30,40,32,44,35,45,55,64,72,75,
         55,44,42,30,35,44,50,45,40,35,30,24,28,32,30,36,32,40,44,38,
         33,36,30,35,42,55,60,65]


def sample_positions():
    out = []
    for nodes in (KPATH_POS[0:8], KPATH_POS[7:9], KPATH_POS[8:10]):
        seg = []
        for i in range(len(nodes) - 1):
            seg += [nodes[i], (nodes[i] + nodes[i + 1]) / 2]
        seg.append(nodes[-1])
        out.append(seg)
    return out


SEGS = sample_positions()


def band_frame(bands):
    rows = []
    for bi, band in enumerate(bands):
        assert len(band) == 21, (bi, len(band))
        start = 0
        for si, seg in enumerate(SEGS):
            for j, k in enumerate(seg):
                rows.append((k, band[start + j], bi * 3 + si))
            start += len(seg)
    return pd.DataFrame(rows, columns=['k', 'E', 'unit'])


sns.set_style('ticks')
plt.rcParams['font.family'] = ['Liberation Serif', 'DejaVu Serif']
plt.rcParams['mathtext.fontset'] = 'custom'
plt.rcParams['mathtext.rm'] = 'Liberation Serif'
plt.rcParams['mathtext.bf'] = 'Liberation Serif:bold'
plt.rcParams['mathtext.it'] = 'Liberation Serif:italic'
plt.rcParams['axes.unicode_minus'] = False

GREEN = '#00D08A'
RED = '#F94040'
ORANGE = '#EE8A2E'

W, H = 920, 1394
fig = plt.figure(figsize=(W / 100, H / 100), dpi=100)
axA = fig.add_axes([79 / W, 1 - 568 / H, 616 / W, 524 / H])
axAd = fig.add_axes([711 / W, 1 - 568 / H, 201 / W, 524 / H])
axB = fig.add_axes([97 / W, 1 - 1310 / H, 563 / W, 510 / H])
axBd = fig.add_axes([672 / W, 1 - 1310 / H, 215 / W, 510 / H])
for ax in (axAd, axBd):
    ax.set_facecolor('none')


def draw_bands(ax, bands, color, lw):
    df = band_frame(bands)
    sns.lineplot(data=df, x='k', y='E', units='unit', estimator=None, sort=False,
                 color=color, lw=lw, ax=ax, legend=False)


def style_band_axes(ax, ylim, ylabel_x, ylabel_y, ylabel_fs):
    ax.set_xlim(KPATH_POS[0], KPATH_POS[-1])
    ax.set_ylim(*ylim)
    for p in KPATH_POS[1:-1]:
        ax.axvline(p, color='black', lw=1.1, zorder=4)
    ax.set_xticks(KPATH_POS)
    ax.set_xticklabels(KPATH_LABELS, fontsize=18)
    ax.tick_params(axis='x', length=0, pad=7)
    ax.yaxis.set_major_locator(MultipleLocator(1))
    ax.yaxis.set_minor_locator(MultipleLocator(0.5))
    ax.tick_params(axis='y', which='major', direction='out', length=7, width=1.6, labelsize=17, pad=3)
    ax.tick_params(axis='y', which='minor', direction='out', length=4, width=1.4)
    ax.set_xlabel('')
    ax.set_ylabel(r'E-E$_\mathbf{F}$ (eV)', fontsize=ylabel_fs, fontweight='bold')
    ax.yaxis.set_label_coords(ylabel_x, ylabel_y)
    for s in ax.spines.values():
        s.set_linewidth(2.0)
        s.set_visible(True)


def style_dos_axes(ax, ylim, xlim, ticks, minor, sans, label_y, fs):
    ax.set_ylim(*ylim)
    ax.set_xlim(*xlim)
    ax.set_yticks([])
    ax.set_xticks(ticks)
    ax.set_xticklabels([str(t) for t in ticks], fontsize=fs,
                       fontfamily=('Liberation Sans' if sans else 'Liberation Serif'))
    ax.xaxis.set_minor_locator(MultipleLocator(minor))
    ax.tick_params(axis='x', which='major', direction='out', length=7, width=1.6, pad=5)
    ax.tick_params(axis='x', which='minor', direction='out', length=4, width=1.4)
    ax.set_ylabel('')
    ax.set_xlabel('TDOS (States/eV)', fontsize=19, fontweight='bold')
    ax.xaxis.set_label_coords(0.5, label_y)
    ax.xaxis.label.set_va('top')
    for s in ax.spines.values():
        s.set_linewidth(2.0)
        s.set_visible(True)


# ---------- panel (a) ----------
draw_bands(axA, a_val + a_fermi + a_cond, GREEN, 2.3)
style_band_axes(axA, (-5, 5), (39 - 79) / 616, 0.53, 22)
axA.plot([0, 1.333], [0.03, 0.03], transform=axA.get_yaxis_transform(), clip_on=False,
         color='black', lw=1.7, ls=(0, (5, 3.2)), zorder=5)
axA.annotate('', xy=(138.5, 1.88), xytext=(138.5, 0.03),
             arrowprops=dict(arrowstyle='<|-|>', color=ORANGE, lw=1.8, mutation_scale=13,
                             shrinkA=0, shrinkB=0), zorder=6)
axA.text(148, 0.95, r'E$_\mathbf{1}$=1.9 eV', color=ORANGE, fontsize=18, fontweight='bold',
         va='center', ha='left', zorder=6)

sns.lineplot(x=a_dos, y=a_dos_E, sort=False, estimator=None, color=GREEN, lw=2.0, ax=axAd)
style_dos_axes(axAd, (-5, 5), (-10, 181), [0, 50, 100, 150], 25, False, (568 - 626) / 524, 18)

# ---------- panel (b) ----------
draw_bands(axB, b_val + b_fermi + b_cond, RED, 1.15)
style_band_axes(axB, (-5, 2), (45 - 97) / 563, 0.51, 21)
axB.plot([0, 1.377], [0.0, 0.0], transform=axB.get_yaxis_transform(), clip_on=False,
         color='black', lw=1.5, ls=(0, (6, 4.5)), zorder=5)
sns.scatterplot(x=[263.5, 263.5], y=[0.25, 0.02], color='#444444', s=60, ax=axB,
                zorder=6, edgecolor='none', legend=False)
axB.text(318, 0.35, r'E$_\mathbf{1}$= 0.2 eV', color='#555555', fontsize=17, fontweight='bold',
         va='center', ha='left', zorder=6)
axB.set_xlim(KPATH_POS[0], KPATH_POS[-1])

sns.lineplot(x=b_dos, y=b_dos_E, sort=False, estimator=None, color='#FF0000', lw=2.2, ax=axBd)
style_dos_axes(axBd, (-5, 2), (-10, 150), [0, 50, 100, 150], 25, True, (1310 - 1362) / 510, 16)

# ---------- titles ----------
fig.text(469 / W, 1 - 22 / H, r'(a) Rh-doped TiO$_\mathbf{2}$', ha='center', va='center',
         fontsize=24, fontweight='bold')
fig.text(469 / W, 1 - 767 / H, r'(b) Re-doped TiO$_\mathbf{2}$', ha='center', va='center',
         fontsize=24, fontweight='bold')

fig.savefig('out.png', dpi=100)
